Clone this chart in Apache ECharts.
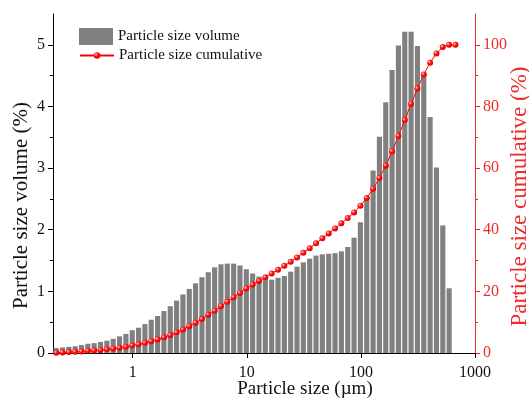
<!DOCTYPE html>
<html><head><meta charset="utf-8">
<script src="https://cdn.jsdelivr.net/npm/echarts@6/dist/echarts.min.js"></script>
<style>html,body{margin:0;padding:0;background:#fff}#c{width:529px;height:399px}</style>
</head><body><div id="c"></div>
<script>
// Bin edges (µm), log-spaced size classes
const binEdges = [0.2, 0.2273, 0.2583, 0.2936, 0.3336, 0.3792, 0.4309, 0.4897, 0.5565, 0.6325, 0.7188, 0.8168, 0.9283,
  1.055, 1.199, 1.363, 1.549, 1.760, 2, 2.273, 2.583, 2.936, 3.336, 3.792, 4.309, 4.897, 5.565, 6.325, 7.188, 8.168, 9.283,
  10.55, 11.99, 13.63, 15.49, 17.60, 20, 22.73, 25.83, 29.36, 33.36, 37.92, 43.09, 48.97, 55.65, 63.25, 71.88, 81.68, 92.83,
  105.5, 119.9, 136.3, 154.9, 176.0, 200, 227.3, 258.3, 293.6, 333.6, 379.2, 430.9, 489.7, 556.5, 632.5, 718.8];
// Particle size volume (%) per bin
const volume = [0.08, 0.09, 0.10, 0.11, 0.13, 0.15, 0.16, 0.18, 0.20, 0.23,
  0.27, 0.31, 0.37, 0.41, 0.47, 0.54, 0.60, 0.68, 0.76, 0.85,
  0.95, 1.04, 1.13, 1.23, 1.31, 1.39, 1.44, 1.45, 1.45, 1.42,
  1.36, 1.29, 1.24, 1.22, 1.19, 1.22, 1.25, 1.32, 1.40, 1.47,
  1.53, 1.58, 1.60, 1.61, 1.62, 1.65, 1.72, 1.87, 2.12, 2.53,
  2.96, 3.51, 4.07, 4.59, 4.99, 5.21, 5.21, 4.98, 4.55, 3.83,
  3.01, 2.07, 1.05, 0];
// Particle size cumulative (%) per bin
const cumulative = [0.1, 0.2, 0.3, 0.4, 0.5, 0.7, 0.8, 1.0, 1.2, 1.4,
  1.7, 2.0, 2.4, 2.8, 3.3, 3.8, 4.4, 5.1, 5.8, 6.7,
  7.6, 8.7, 9.8, 11.0, 12.4, 13.7, 15.2, 16.6, 18.1, 19.5,
  20.9, 22.2, 23.4, 24.6, 25.8, 27.0, 28.3, 29.6, 31.0, 32.5,
  34.0, 35.6, 37.2, 38.8, 40.4, 42.1, 43.8, 45.6, 47.8, 50.3,
  53.3, 56.8, 60.8, 65.4, 70.4, 75.6, 80.8, 85.8, 90.4, 94.2,
  97.2, 99.3, 100.0, 100.0];
const xTicks = [1, 10, 100, 1000];
const leftTicks = [0, 1, 2, 3, 4, 5];
const leftMinor = [0.5, 1.5, 2.5, 3.5, 4.5];
const rightTicks = [0, 20, 40, 60, 80, 100];
const rightMinor = [10, 30, 50, 70, 90];

const FONT = 'Liberation Serif';
const RED = '#ee2a2a';
const barData = volume.map((v, i) => [binEdges[i], binEdges[i + 1], v]);
const lineData = cumulative.map((c, i) => [Math.sqrt(binEdges[i] * binEdges[i + 1]), c]);

const chart = echarts.init(document.getElementById('c'), null, {renderer: 'canvas'});
const yBase = (extra) => Object.assign({type: 'value', splitLine: {show: false}}, extra);
chart.setOption({
  animation: false,
  backgroundColor: '#fff',
  grid: {left: 53, right: 54, top: 14, bottom: 46, containLabel: false, outerBoundsMode: 'none'},
  legend: [
    {data: ['Particle size volume'], left: 79, top: 28, padding: 0, itemWidth: 34, itemHeight: 17, itemGap: 0,
     textStyle: {fontFamily: FONT, fontSize: 15, color: '#111'}, icon: 'rect'},
    {data: ['Particle size cumulative'], left: 79, top: 48, padding: 0, itemWidth: 34, itemHeight: 8, itemGap: 0,
     textStyle: {fontFamily: FONT, fontSize: 15, color: '#111'}}
  ],
  xAxis: {
    type: 'log', logBase: 10, min: 0.2, max: 1000,
    axisLine: {show: true, lineStyle: {color: '#000', width: 1}},
    axisTick: {show: true, customValues: xTicks, length: 5, lineStyle: {color: '#000'}},
    axisLabel: {customValues: xTicks, fontFamily: FONT, fontSize: 16, color: '#111', margin: 12,
      formatter: (v) => String(Math.round(v))},
    splitLine: {show: false},
    name: 'Particle size (µm)', nameLocation: 'middle', nameGap: 27, nameMoveOverlap: false,
    nameTextStyle: {fontFamily: FONT, fontSize: 19, color: '#111', padding: [0, 0, 0, 82]}
  },
  yAxis: [
    yBase({position: 'left', min: 0, max: 5.5,
      axisLine: {show: true, lineStyle: {color: '#000'}},
      axisTick: {show: true, customValues: leftTicks, length: 5, lineStyle: {color: '#000'}},
      axisLabel: {customValues: leftTicks, fontFamily: FONT, fontSize: 16, color: '#111', margin: 8},
      name: 'Particle size volume (%)', nameLocation: 'middle', nameGap: 21, nameRotate: 90, nameMoveOverlap: false,
      nameTextStyle: {fontFamily: FONT, fontSize: 21, color: '#111', padding: [0, 44, 0, 0]}}),
    yBase({position: 'right', min: 0, max: 110,
      axisLine: {show: true, lineStyle: {color: RED}},
      axisTick: {show: true, customValues: rightTicks, length: 5, lineStyle: {color: RED}},
      axisLabel: {customValues: rightTicks, fontFamily: FONT, fontSize: 16, color: RED, margin: 8},
      name: 'Particle size cumulative (%)', nameLocation: 'middle', nameGap: 33, nameRotate: 90, nameMoveOverlap: false,
      nameTextStyle: {fontFamily: FONT, fontSize: 23, color: RED, padding: [0, 26, 0, 0]}}),
    yBase({position: 'left', min: 0, max: 5.5,
      axisLine: {show: false},
      axisTick: {show: true, customValues: leftMinor, length: 3, lineStyle: {color: '#000'}},
      axisLabel: {show: false}}),
    yBase({position: 'right', min: 0, max: 110,
      axisLine: {show: false},
      axisTick: {show: true, customValues: rightMinor, length: 3, lineStyle: {color: RED}},
      axisLabel: {show: false}})
  ],
  series: [
    {
      name: 'Particle size volume', type: 'custom', xAxisIndex: 0, yAxisIndex: 0,
      itemStyle: {color: '#808080'},
      encode: {x: [0, 1], y: 2},
      data: barData,
      renderItem: function (params, api) {
        const p0 = api.coord([api.value(0), api.value(2)]);
        const p1 = api.coord([api.value(1), 0]);
        return {type: 'rect', shape: {x: p0[0] + 0.6, y: p0[1], width: p1[0] - p0[0] - 1.2, height: p1[1] - p0[1]},
          style: {fill: '#808080'}};
      },
      z: 2
    },
    {
      name: 'Particle size cumulative', type: 'line', xAxisIndex: 0, yAxisIndex: 1,
      data: lineData, symbol: 'circle', symbolSize: 6, showSymbol: true,
      lineStyle: {color: '#ff0000', width: 1},
      itemStyle: {color: new echarts.graphic.RadialGradient(0.35, 0.35, 0.7, [
        {offset: 0, color: '#ffc8c8'}, {offset: 0.45, color: '#ff1010'}, {offset: 1, color: '#d80000'}])},
      z: 5
    }
  ]
});
</script></body></html>
